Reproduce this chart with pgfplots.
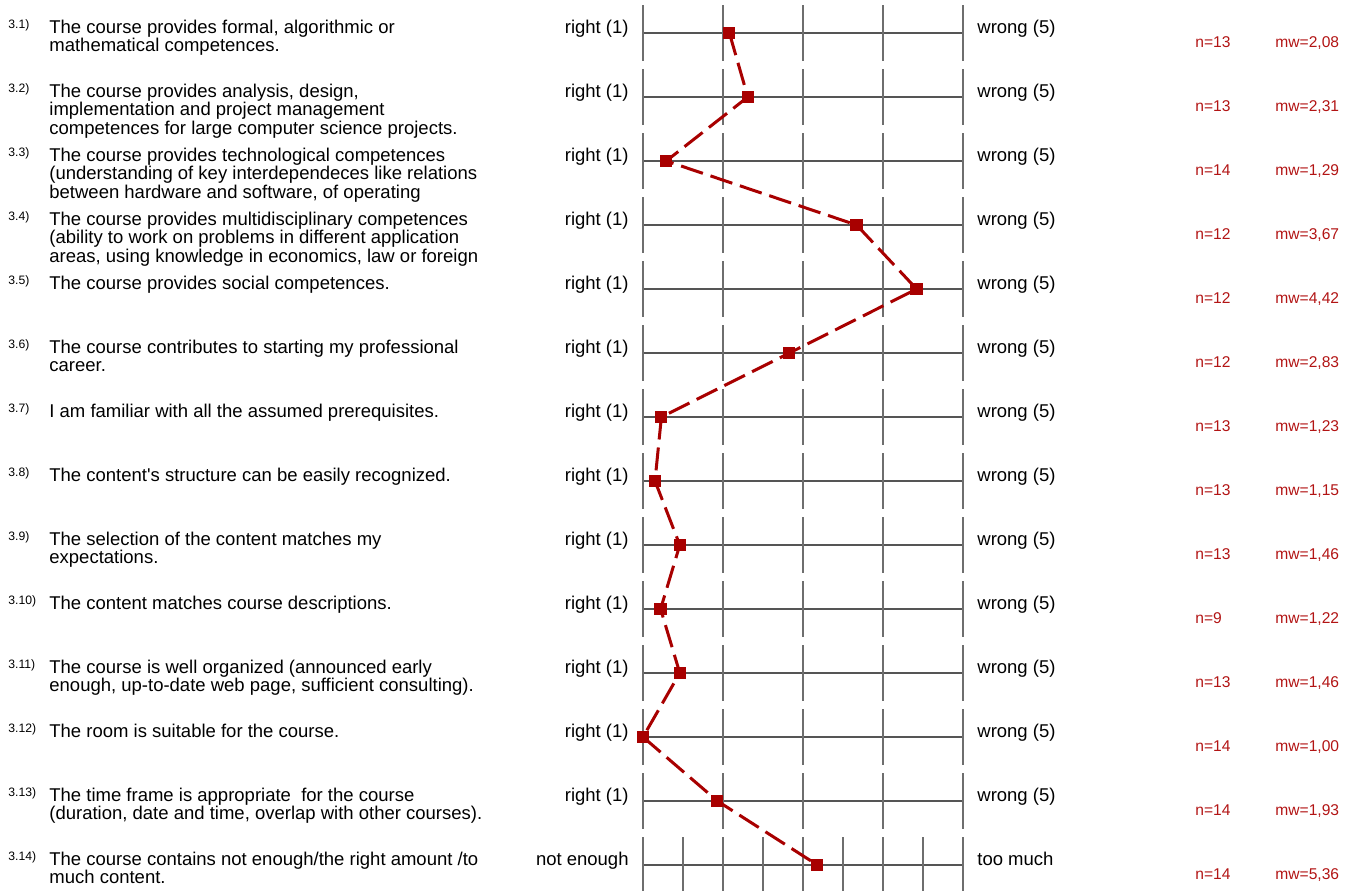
\documentclass[border=0pt]{standalone}
\usepackage{fontspec}
\setmainfont{Liberation Sans}
\usepackage{pgfplots}
\pgfplotsset{compat=1.18}
\definecolor{mred}{RGB}{168,0,0}
\definecolor{tred}{RGB}{178,20,20}
\definecolor{gridc}{RGB}{110,110,110}
\definecolor{hlc}{RGB}{85,85,85}
\begin{document}
\begin{tikzpicture}[
  vl/.style={draw=gridc, line width=0.75pt},
  hl/.style={draw=hlc, line width=0.6pt},
  q/.style={anchor=base west, inner sep=0pt, font=\fontsize{9.25}{11}\selectfont},
  sup/.style={anchor=base west, inner sep=0pt, font=\fontsize{6.1}{7}\selectfont},
  lab/.style={inner sep=0pt, font=\fontsize{9.25}{11}\selectfont},
  st/.style={anchor=base west, inner sep=0pt, text=tred, font=\fontsize{7.8}{9}\selectfont},
]
\begin{axis}[
  at={(0,0)}, anchor=south west,
  scale only axis, width=675pt, height=445pt,
  xmin=-7.0375, xmax=9.8375,
  ymin=0.484375, ymax=14.390625,
  y dir=reverse,
  hide axis,
]
% scale frames, rows 1-13 (1..5)
\pgfplotsinvokeforeach{1,...,13}{
  \draw[hl] (axis cs:1,#1) -- (axis cs:5,#1);
  \draw[vl] ([yshift=14pt]axis cs:1,#1) -- ([yshift=-14pt]axis cs:1,#1);
  \draw[vl] ([yshift=14pt]axis cs:2,#1) -- ([yshift=-14pt]axis cs:2,#1);
  \draw[vl] ([yshift=14pt]axis cs:3,#1) -- ([yshift=-14pt]axis cs:3,#1);
  \draw[vl] ([yshift=14pt]axis cs:4,#1) -- ([yshift=-14pt]axis cs:4,#1);
  \draw[vl] ([yshift=14pt]axis cs:5,#1) -- ([yshift=-14pt]axis cs:5,#1);
  \node[lab, anchor=base east] at (axis cs:0.825,#1) {right (1)};
  \node[lab, anchor=base west] at (axis cs:5.175,#1) {wrong (5)};
}
% row 14 has a finer scale
\draw[hl] (axis cs:1,14) -- (axis cs:5,14);
\pgfplotsinvokeforeach{1,1.5,2,2.5,3,3.5,4,4.5,5}{
  \draw[vl] ([yshift=14pt]axis cs:#1,14) -- ([yshift=-14pt]axis cs:#1,14);
}
\node[lab, anchor=base east] at (axis cs:0.825,14) {not enough};
\node[lab, anchor=base west] at (axis cs:5.175,14) {too much};

% profile line (row 14 plotted on its 9-step scale: 5.36 -> 3.18)
\addplot[mred, line width=1.5pt, dash pattern=on 11.5pt off 4pt,
  mark=square*, mark size=2.3pt, mark options={solid}] coordinates {
  (2.08,1) (2.31,2) (1.29,3) (3.67,4) (4.42,5) (2.83,6) (1.23,7)
  (1.15,8) (1.46,9) (1.22,10) (1.46,11) (1.00,12) (1.93,13) (3.18,14)
};

% question numbers
\node[sup, yshift=2.5pt] at (axis cs:-6.9375,1) {3.1)};
\node[sup, yshift=2.5pt] at (axis cs:-6.9375,2) {3.2)};
\node[sup, yshift=2.5pt] at (axis cs:-6.9375,3) {3.3)};
\node[sup, yshift=2.5pt] at (axis cs:-6.9375,4) {3.4)};
\node[sup, yshift=2.5pt] at (axis cs:-6.9375,5) {3.5)};
\node[sup, yshift=2.5pt] at (axis cs:-6.9375,6) {3.6)};
\node[sup, yshift=2.5pt] at (axis cs:-6.9375,7) {3.7)};
\node[sup, yshift=2.5pt] at (axis cs:-6.9375,8) {3.8)};
\node[sup, yshift=2.5pt] at (axis cs:-6.9375,9) {3.9)};
\node[sup, yshift=2.5pt] at (axis cs:-6.9375,10) {3.10)};
\node[sup, yshift=2.5pt] at (axis cs:-6.9375,11) {3.11)};
\node[sup, yshift=2.5pt] at (axis cs:-6.9375,12) {3.12)};
\node[sup, yshift=2.5pt] at (axis cs:-6.9375,13) {3.13)};
\node[sup, yshift=2.5pt] at (axis cs:-6.9375,14) {3.14)};

% question texts
\node[q] at (axis cs:-6.425,1) {The course provides formal, algorithmic or};
\node[q, yshift=-9.25pt] at (axis cs:-6.425,1) {mathematical competences.};
\node[q] at (axis cs:-6.425,2) {The course provides analysis, design,};
\node[q, yshift=-9.25pt] at (axis cs:-6.425,2) {implementation and project management};
\node[q, yshift=-18.5pt] at (axis cs:-6.425,2) {competences for large computer science projects.};
\node[q] at (axis cs:-6.425,3) {The course provides technological competences};
\node[q, yshift=-9.25pt] at (axis cs:-6.425,3) {(understanding of key interdependeces like relations};
\node[q, yshift=-18.5pt] at (axis cs:-6.425,3) {between hardware and software, of operating};
\node[q] at (axis cs:-6.425,4) {The course provides multidisciplinary competences};
\node[q, yshift=-9.25pt] at (axis cs:-6.425,4) {(ability to work on problems in different application};
\node[q, yshift=-18.5pt] at (axis cs:-6.425,4) {areas, using knowledge in economics, law or foreign};
\node[q] at (axis cs:-6.425,5) {The course provides social competences.};
\node[q] at (axis cs:-6.425,6) {The course contributes to starting my professional};
\node[q, yshift=-9.25pt] at (axis cs:-6.425,6) {career.};
\node[q] at (axis cs:-6.425,7) {I am familiar with all the assumed prerequisites.};
\node[q] at (axis cs:-6.425,8) {The content\textquotesingle s structure can be easily recognized.};
\node[q] at (axis cs:-6.425,9) {The selection of the content matches my};
\node[q, yshift=-9.25pt] at (axis cs:-6.425,9) {expectations.};
\node[q] at (axis cs:-6.425,10) {The content matches course descriptions.};
\node[q] at (axis cs:-6.425,11) {The course is well organized (announced early};
\node[q, yshift=-9.25pt] at (axis cs:-6.425,11) {enough, up-to-date web page, sufficient consulting).};
\node[q] at (axis cs:-6.425,12) {The room is suitable for the course.};
\node[q] at (axis cs:-6.425,13) {The time frame is appropriate\ \ for the course};
\node[q, yshift=-9.25pt] at (axis cs:-6.425,13) {(duration, date and time, overlap with other courses).};
\node[q] at (axis cs:-6.425,14) {The course contains not enough/the right amount /to};
\node[q, yshift=-9.25pt] at (axis cs:-6.425,14) {much content.};

% statistics
\node[st, yshift=-7pt] at (axis cs:7.9,1) {n=13};  \node[st, yshift=-7pt] at (axis cs:8.9,1) {mw=2,08};
\node[st, yshift=-7pt] at (axis cs:7.9,2) {n=13};  \node[st, yshift=-7pt] at (axis cs:8.9,2) {mw=2,31};
\node[st, yshift=-7pt] at (axis cs:7.9,3) {n=14};  \node[st, yshift=-7pt] at (axis cs:8.9,3) {mw=1,29};
\node[st, yshift=-7pt] at (axis cs:7.9,4) {n=12};  \node[st, yshift=-7pt] at (axis cs:8.9,4) {mw=3,67};
\node[st, yshift=-7pt] at (axis cs:7.9,5) {n=12};  \node[st, yshift=-7pt] at (axis cs:8.9,5) {mw=4,42};
\node[st, yshift=-7pt] at (axis cs:7.9,6) {n=12};  \node[st, yshift=-7pt] at (axis cs:8.9,6) {mw=2,83};
\node[st, yshift=-7pt] at (axis cs:7.9,7) {n=13};  \node[st, yshift=-7pt] at (axis cs:8.9,7) {mw=1,23};
\node[st, yshift=-7pt] at (axis cs:7.9,8) {n=13};  \node[st, yshift=-7pt] at (axis cs:8.9,8) {mw=1,15};
\node[st, yshift=-7pt] at (axis cs:7.9,9) {n=13};  \node[st, yshift=-7pt] at (axis cs:8.9,9) {mw=1,46};
\node[st, yshift=-7pt] at (axis cs:7.9,10) {n=9};  \node[st, yshift=-7pt] at (axis cs:8.9,10) {mw=1,22};
\node[st, yshift=-7pt] at (axis cs:7.9,11) {n=13}; \node[st, yshift=-7pt] at (axis cs:8.9,11) {mw=1,46};
\node[st, yshift=-7pt] at (axis cs:7.9,12) {n=14}; \node[st, yshift=-7pt] at (axis cs:8.9,12) {mw=1,00};
\node[st, yshift=-7pt] at (axis cs:7.9,13) {n=14}; \node[st, yshift=-7pt] at (axis cs:8.9,13) {mw=1,93};
\node[st, yshift=-7pt] at (axis cs:7.9,14) {n=14}; \node[st, yshift=-7pt] at (axis cs:8.9,14) {mw=5,36};
\end{axis}
\pgfresetboundingbox
\path (0,0) rectangle (675pt,445pt);
\end{tikzpicture}
\end{document}
